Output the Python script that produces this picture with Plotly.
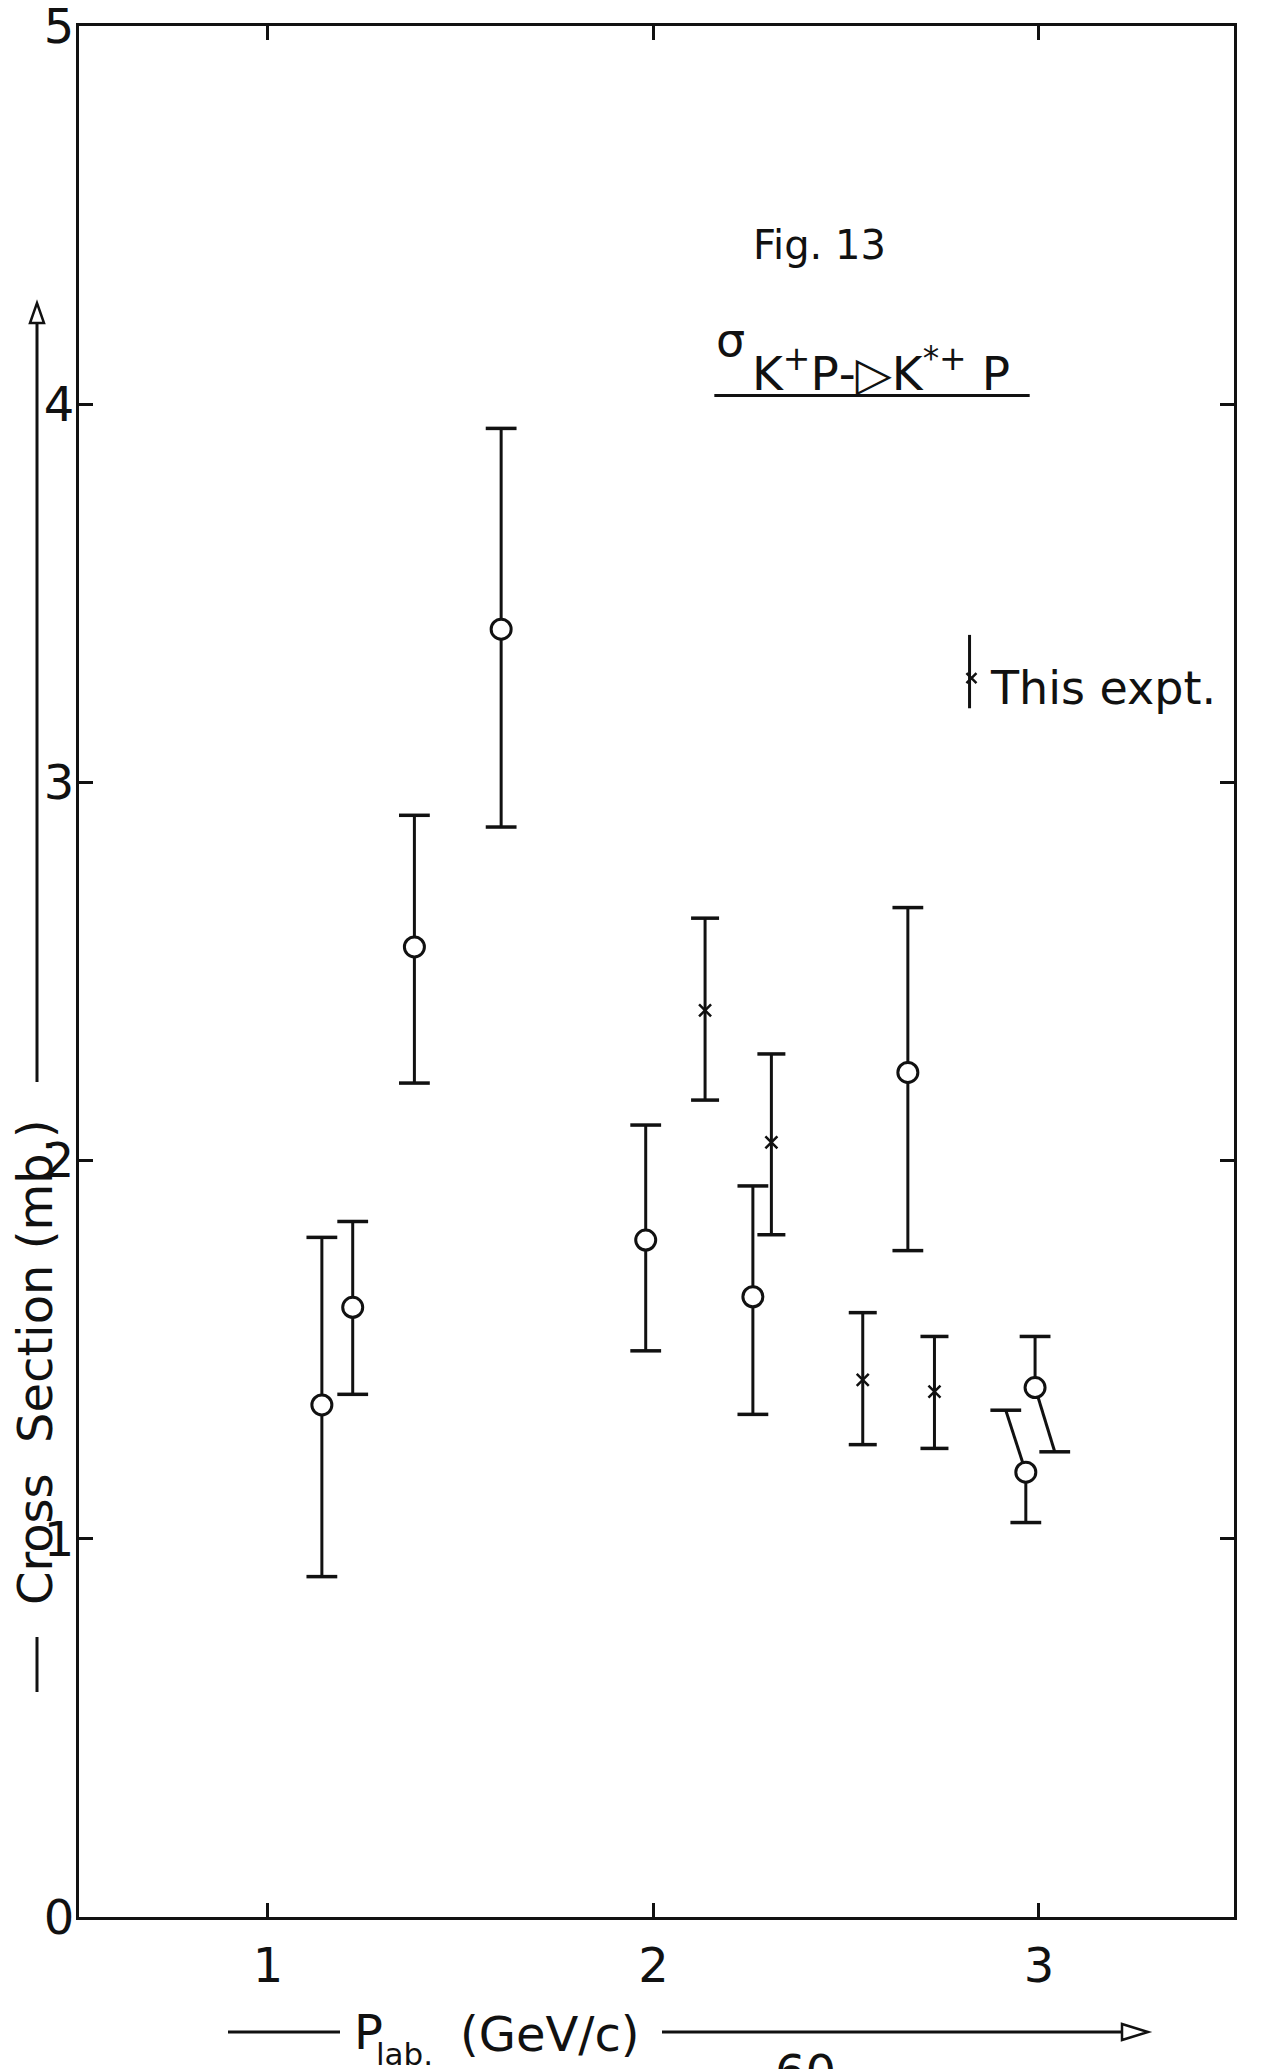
import plotly.graph_objects as go

# ---- data -------------------------------------------------------------
# Other experiments (open circles): lab momentum (GeV/c), cross section (mb)
ref_p = [1.14, 1.22, 1.38, 1.605, 1.98, 2.258, 2.66, 2.966, 2.99, 3.527]
ref_sigma = [1.354, 1.612, 2.565, 3.405, 1.79, 1.64, 2.233, 1.176, 1.40, 0.789]
ref_upper = [1.797, 1.839, 2.913, 3.936, 2.094, 1.933, 2.669, 1.34, 1.535, 0.824]
ref_lower = [0.90, 1.382, 2.205, 2.882, 1.497, 1.329, 1.762, 1.043, 1.23, 0.743]
# where each bar end sits in momentum (two overlapping bars are drawn slanted)
ref_upper_at = [1.14, 1.22, 1.38, 1.605, 1.98, 2.258, 2.66, 2.914, 2.99, 3.527]
ref_lower_at = [1.14, 1.22, 1.38, 1.605, 1.98, 2.258, 2.66, 2.966, 3.041, 3.527]

# This experiment (crosses)
this_p = [2.134, 2.306, 2.543, 2.729]
this_sigma = [2.397, 2.048, 1.42, 1.389]
this_upper = [2.641, 2.282, 1.598, 1.535]
this_lower = [2.16, 1.804, 1.249, 1.239]

x_ticks = [1, 2, 3]
y_ticks = [0, 1, 2, 3, 4, 5]

FONT = "DejaVu Sans, sans-serif"
INK = "#111111"
W, H = 1266, 2069
M_L, M_R, M_T, M_B = 79, 32, 26, 152
NB = "\u00a0"


def segments(xs, ys, ends, end_xs):
    sx, sy = [], []
    for x, y, e, ex in zip(xs, ys, ends, end_xs):
        sx += [x, ex, None]
        sy += [y, e, None]
    return sx, sy


fig = go.Figure()

# error bars of the other experiments
for ends, end_xs in ((ref_upper, ref_upper_at), (ref_lower, ref_lower_at)):
    sx, sy = segments(ref_p, ref_sigma, ends, end_xs)
    fig.add_trace(go.Scatter(x=sx, y=sy, mode="lines",
                             line=dict(color=INK, width=3),
                             hoverinfo="skip", cliponaxis=False))
    fig.add_trace(go.Scatter(x=end_xs, y=ends, mode="markers",
                             marker=dict(symbol="line-ew", size=22,
                                         line=dict(color=INK, width=3.5)),
                             hoverinfo="skip", cliponaxis=False))

# error bars of this experiment
for ends in (this_upper, this_lower):
    sx, sy = segments(this_p, this_sigma, ends, this_p)
    fig.add_trace(go.Scatter(x=sx, y=sy, mode="lines",
                             line=dict(color=INK, width=3),
                             hoverinfo="skip", cliponaxis=False))
    fig.add_trace(go.Scatter(x=this_p, y=ends, mode="markers",
                             marker=dict(symbol="line-ew", size=20,
                                         line=dict(color=INK, width=3.5)),
                             hoverinfo="skip", cliponaxis=False))

# central values
fig.add_trace(go.Scatter(x=ref_p, y=ref_sigma, mode="markers",
                         marker=dict(symbol="circle", size=20, color="white",
                                     line=dict(color=INK, width=3)),
                         cliponaxis=False))
fig.add_trace(go.Scatter(x=this_p, y=this_sigma, mode="markers",
                         marker=dict(symbol="x-thin", size=12,
                                     line=dict(color=INK, width=2.5)),
                         cliponaxis=False))

# key symbol for this experiment
fig.add_trace(go.Scatter(x=[2.82, 2.82], y=[3.39, 3.196], mode="lines",
                         line=dict(color=INK, width=3), hoverinfo="skip"))
fig.add_trace(go.Scatter(x=[2.825], y=[3.276], mode="markers",
                         marker=dict(symbol="x-thin", size=10,
                                     line=dict(color=INK, width=2.5)),
                         hoverinfo="skip"))

anns = []
anns.append(dict(x=2.868, y=3.25, xref="x", yref="y", text="This expt.",
                 xanchor="left", yanchor="middle", showarrow=False,
                 font=dict(size=46, family=FONT, color=INK)))
anns.append(dict(x=2.43, y=4.42, xref="x", yref="y", text="Fig. 13",
                 xanchor="center", yanchor="middle", showarrow=False,
                 font=dict(size=40, family=FONT, color=INK)))
anns.append(dict(x=2.20, y=4.17, xref="x", yref="y", text="σ",
                 xanchor="center", yanchor="middle", showarrow=False,
                 font=dict(size=46, family=FONT, color=INK)))
anns.append(dict(x=2.25, y=4.09, xref="x", yref="y",
                 text="K<sup>+</sup>P‑▷K<sup>*+</sup>" + NB + "P",
                 xanchor="left", yanchor="middle", showarrow=False,
                 font=dict(size=47, family=FONT, color=INK)))


def px_x(p):
    return (p - M_L) / (W - M_L - M_R)


def px_y(p):
    return (H - M_B - p) / (H - M_T - M_B)


# y axis title
anns.append(dict(x=px_x(35), y=px_y(1362), xref="paper", yref="paper",
                 text="Cross" + NB * 2 + "Section" + NB + "(mb.)", textangle=-90,
                 xanchor="center", yanchor="middle", showarrow=False,
                 font=dict(size=48, family=FONT, color=INK)))
# x axis title
anns.append(dict(x=px_x(352), y=px_y(2032), xref="paper", yref="paper",
                 text="P", xanchor="left", yanchor="middle", showarrow=False,
                 font=dict(size=48, family=FONT, color=INK)))
anns.append(dict(x=px_x(374), y=px_y(2054), xref="paper", yref="paper",
                 text="lab.", xanchor="left", yanchor="middle", showarrow=False,
                 font=dict(size=31, family=FONT, color=INK)))
anns.append(dict(x=px_x(458), y=px_y(2034), xref="paper", yref="paper",
                 text="(GeV/c)", xanchor="left", yanchor="middle", showarrow=False,
                 font=dict(size=48, family=FONT, color=INK)))
# page number at the foot
anns.append(dict(x=px_x(805), y=px_y(2042), xref="paper", yref="paper",
                 text="60", xanchor="center", yanchor="top", showarrow=False,
                 font=dict(size=48, family=FONT, color=INK)))

line = dict(color=INK, width=3)
shapes = [
    # underline of the reaction label
    dict(type="line", xref="x", yref="y", x0=2.158, x1=2.976, y0=4.023, y1=4.023,
         line=line),
    # y title dash and arrow
    dict(type="line", xref="paper", yref="paper", x0=px_x(37), x1=px_x(37),
         y0=px_y(1692), y1=px_y(1637), line=line),
    dict(type="line", xref="paper", yref="paper", x0=px_x(37), x1=px_x(37),
         y0=px_y(1082), y1=px_y(323), line=line),
    dict(type="path", xref="paper", yref="paper",
         path=f"M {px_x(30)} {px_y(323)} L {px_x(44)} {px_y(323)} "
              f"L {px_x(37)} {px_y(303)} Z",
         line=dict(color=INK, width=2.5), fillcolor="white"),
    # x title lines and arrow
    dict(type="line", xref="paper", yref="paper", x0=px_x(228), x1=px_x(340),
         y0=px_y(2032), y1=px_y(2032), line=line),
    dict(type="line", xref="paper", yref="paper", x0=px_x(662), x1=px_x(1122),
         y0=px_y(2032), y1=px_y(2032), line=line),
    dict(type="path", xref="paper", yref="paper",
         path=f"M {px_x(1122)} {px_y(2024)} L {px_x(1122)} {px_y(2040)} "
              f"L {px_x(1148)} {px_y(2032)} Z",
         line=dict(color=INK, width=2.5), fillcolor="white"),
]

axis_common = dict(showline=True, linewidth=3, linecolor=INK, mirror="ticks",
                   ticks="inside", ticklen=14, tickwidth=3, tickcolor=INK,
                   showgrid=False, zeroline=False, automargin=False,
                   ticklabeloverflow="allow",
                   tickfont=dict(size=48, family=FONT, color=INK))

fig.update_layout(
    width=W, height=H,
    margin=dict(l=M_L, r=M_R, t=M_T, b=M_B, pad=0, autoexpand=False),
    paper_bgcolor="white", plot_bgcolor="white",
    showlegend=False,
    xaxis=dict(range=[0.51, 3.506], tickvals=x_ticks, ticklabelstandoff=4,
               **axis_common),
    yaxis=dict(range=[0, 5], tickvals=y_ticks, ticklabelstandoff=-8,
               **axis_common),
    annotations=anns,
    shapes=shapes,
)

fig.write_html("out.html")
